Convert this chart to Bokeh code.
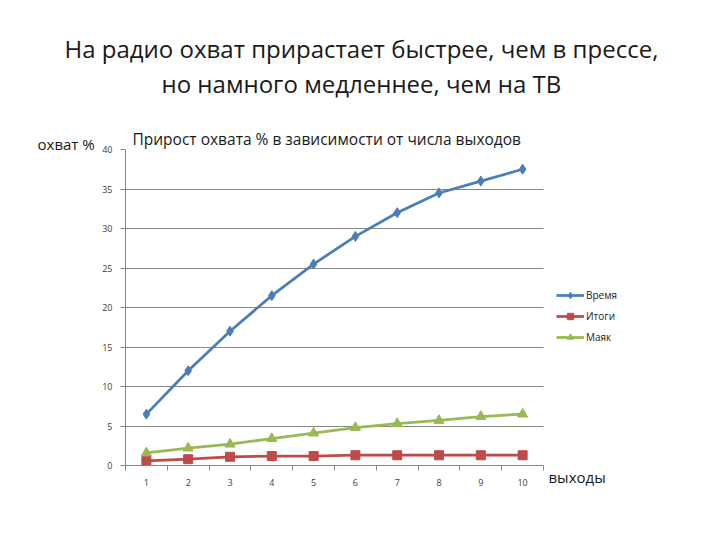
from bokeh.plotting import figure
from bokeh.models import Legend, LegendItem, FixedTicker, Range1d, Title
from bokeh.embed import file_html
from bokeh.resources import INLINE

outputs = [1, 2, 3, 4, 5, 6, 7, 8, 9, 10]
vremya = [6.5, 12.0, 17.0, 21.5, 25.5, 29.0, 32.0, 34.5, 36.0, 37.5]
itogi = [0.6, 0.8, 1.1, 1.2, 1.2, 1.3, 1.3, 1.3, 1.3, 1.3]
mayak = [1.6, 2.2, 2.7, 3.4, 4.1, 4.8, 5.3, 5.7, 6.2, 6.5]
series_names = ["Время", "Итоги", "Маяк"]
y_ticks = [0, 5, 10, 15, 20, 25, 30, 35, 40]

FONT = "Open Sans"
W, H = 704, 524
X_START, X_END, X_VIEW_END = 0.5, 10.5, 12.82

p = figure(width=W, height=H, output_backend="svg", toolbar_location=None,
           x_range=Range1d(X_START, X_VIEW_END), y_range=Range1d(0, 40),
           min_border_left=125, min_border_right=64, min_border_top=149, min_border_bottom=59)
p.outline_line_color = None
p.background_fill_color = "white"

c1, c2, c3 = "#4A7EBB", "#BE4B48", "#98B954"
r1 = p.line(outputs, vremya, line_color=c1, line_width=2.75)
m1 = p.scatter(outputs, vremya, marker="diamond", size=10, fill_color=c1, line_color=c1)
r2 = p.line(outputs, itogi, line_color=c2, line_width=2.75)
m2 = p.scatter(outputs, itogi, marker="square", size=9, fill_color=c2, line_color=c2)
r3 = p.line(outputs, mayak, line_color=c3, line_width=2.75)
m3 = p.scatter(outputs, mayak, marker="triangle", size=10, fill_color=c3, line_color=c3)

# axes
p.xaxis.bounds = (X_START, X_END)
p.xaxis.ticker = FixedTicker(ticks=outputs, minor_ticks=[x - 0.5 for x in outputs] + [X_END])
p.xaxis.major_tick_line_color = None
p.xaxis.major_tick_out = 0
p.xaxis.minor_tick_out = 5
p.xaxis.minor_tick_in = 0
p.xaxis.minor_tick_line_color = "#868686"
p.xaxis.axis_line_color = "#868686"
p.xaxis.major_label_text_font = FONT
p.xaxis.major_label_text_font_size = "9px"
p.xaxis.major_label_text_color = "#404040"
p.xaxis.major_label_standoff = 8

p.yaxis.ticker = FixedTicker(ticks=y_ticks)
p.yaxis.major_tick_out = 5
p.yaxis.major_tick_in = 0
p.yaxis.minor_tick_line_color = None
p.yaxis.major_tick_line_color = "#868686"
p.yaxis.axis_line_color = "#868686"
p.yaxis.major_label_text_font = FONT
p.yaxis.major_label_text_font_size = "9px"
p.yaxis.major_label_text_color = "#404040"
p.yaxis.major_label_standoff = 8

p.xgrid.grid_line_color = None
g = p.ygrid[0]
g.ticker = FixedTicker(ticks=y_ticks)
g.grid_line_color = "#868686"
g.grid_line_width = 1
if "cross_bounds" in g.properties():
    g.cross_bounds = (X_START, X_END)

# titles (first added is nearest the frame)
def title(text, size, offset, standoff, valign="bottom"):
    return Title(text=text, align="left", offset=offset, vertical_align=valign,
                 text_font=FONT, text_font_size=size,
                 text_font_style="normal", text_color="#1a1a1a", standoff=standoff)

p.add_layout(title("Прирост охвата % в зависимости от числа выходов", "15.5px", 7, 0), "above")
p.add_layout(title("охват %", "15px", -88, -56), "above")
p.add_layout(title(" ", "2px", 0, 21), "above")
p.add_layout(title("но намного медленнее, чем на ТВ", "24px", 36, 0), "above")
p.add_layout(title("На радио охват прирастает быстрее, чем в прессе,", "24px", -61, 0), "above")

# x axis caption
p.add_layout(title("выходы", "15px", 423, -44, "top"), "below")

legend = Legend(items=[LegendItem(label=series_names[0], renderers=[r1, m1]),
                       LegendItem(label=series_names[1], renderers=[r2, m2]),
                       LegendItem(label=series_names[2], renderers=[r3, m3])],
                location=(431, 120))
legend.background_fill_alpha = 0
legend.border_line_color = None
legend.label_text_font = FONT
legend.label_text_font_size = "10px"
legend.label_text_color = "#1a1a1a"
legend.glyph_width = 28
legend.glyph_height = 16
legend.label_height = 16
legend.spacing = 5
legend.label_standoff = 2
legend.padding = 0
legend.margin = 0
p.add_layout(legend)

open("out.html", "w").write(file_html(p, INLINE))
